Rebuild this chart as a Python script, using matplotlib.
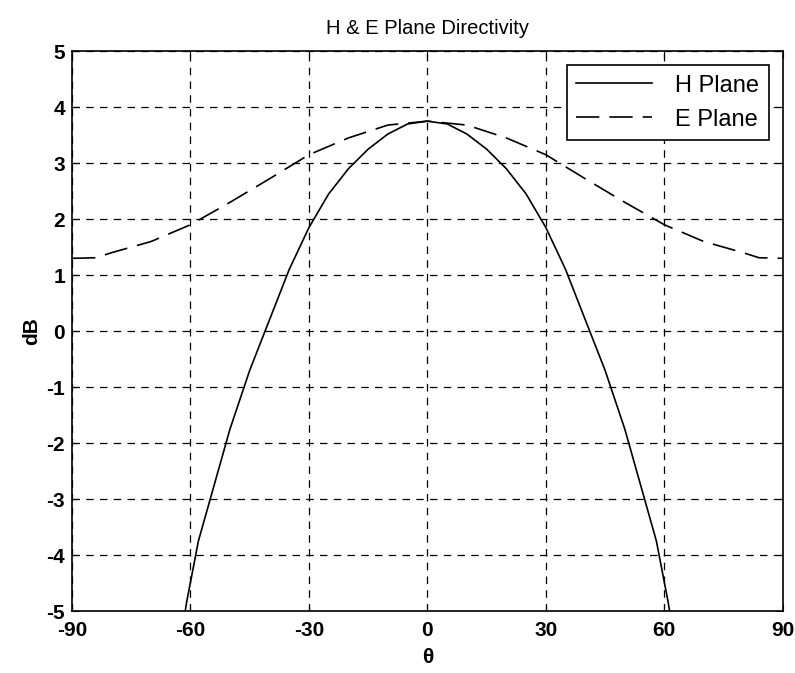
import numpy as np
import matplotlib.pyplot as plt

# H plane directivity (dB), symmetric about 0
h_theta = [-62, -61, -58, -55, -50, -45, -40, -35, -30, -25, -20, -15, -10, -5, 0,
           5, 10, 15, 20, 25, 30, 35, 40, 45, 50, 55, 58, 61, 62]
h_db = [-5.3, -4.85, -3.75, -3.0, -1.75, -0.7, 0.2, 1.1, 1.85, 2.45, 2.9, 3.25, 3.52, 3.70, 3.75,
        3.70, 3.52, 3.25, 2.9, 2.45, 1.85, 1.1, 0.2, -0.7, -1.75, -3.0, -3.75, -4.85, -5.3]

# E plane directivity (dB)
e_theta = [-90, -84, -80, -70, -60, -50, -40, -30, -20, -10, 0,
           10, 20, 30, 40, 50, 60, 70, 80, 84, 90]
e_db = [1.3, 1.31, 1.4, 1.6, 1.9, 2.3, 2.72, 3.15, 3.45, 3.68, 3.75,
        3.68, 3.45, 3.15, 2.72, 2.3, 1.9, 1.6, 1.4, 1.31, 1.3]

x_ticks = [-90, -60, -30, 0, 30, 60, 90]
y_ticks = [-5, -4, -3, -2, -1, 0, 1, 2, 3, 4, 5]

plt.rcParams['font.family'] = ['Liberation Sans', 'DejaVu Sans']
plt.rcParams['axes.unicode_minus'] = False

fig = plt.figure(figsize=(7.95, 6.73), dpi=100)
ax = fig.add_axes([0.0906, 0.092, 0.894, 0.832])

ax.plot(h_theta, h_db, color='black', linewidth=1.2, label='H Plane')
ax.plot(e_theta, e_db, color='black', linewidth=1.2, dashes=(14, 6), label='E Plane')

ax.set_xlim(-90, 90)
ax.set_ylim(-5, 5)
ax.set_xticks(x_ticks)
ax.set_yticks(y_ticks)
ax.tick_params(direction='in', top=True, right=True, length=5, labelsize=15)
ax.tick_params(axis='x', pad=7)
ax.tick_params(axis='y', pad=5)
for lbl in ax.get_xticklabels() + ax.get_yticklabels():
    lbl.set_fontweight('bold')

ax.grid(True, color='black', linestyle=(0, (6, 5)), linewidth=0.9)
for s in ax.spines.values():
    s.set_linewidth(1.2)

ax.set_title('H & E Plane Directivity', fontsize=14.5, pad=12)
ax.set_xlabel('θ', fontsize=15, fontweight='bold', labelpad=6)
ax.set_ylabel('dB', fontsize=15, fontweight='bold', labelpad=4)

leg = ax.legend(loc='upper right', fontsize=17, frameon=True, fancybox=False,
                framealpha=1, edgecolor='black', handlelength=3.2,
                borderaxespad=0.6, handletextpad=1.0)
leg.get_frame().set_linewidth(1.2)

fig.savefig('out.png', dpi=100)
